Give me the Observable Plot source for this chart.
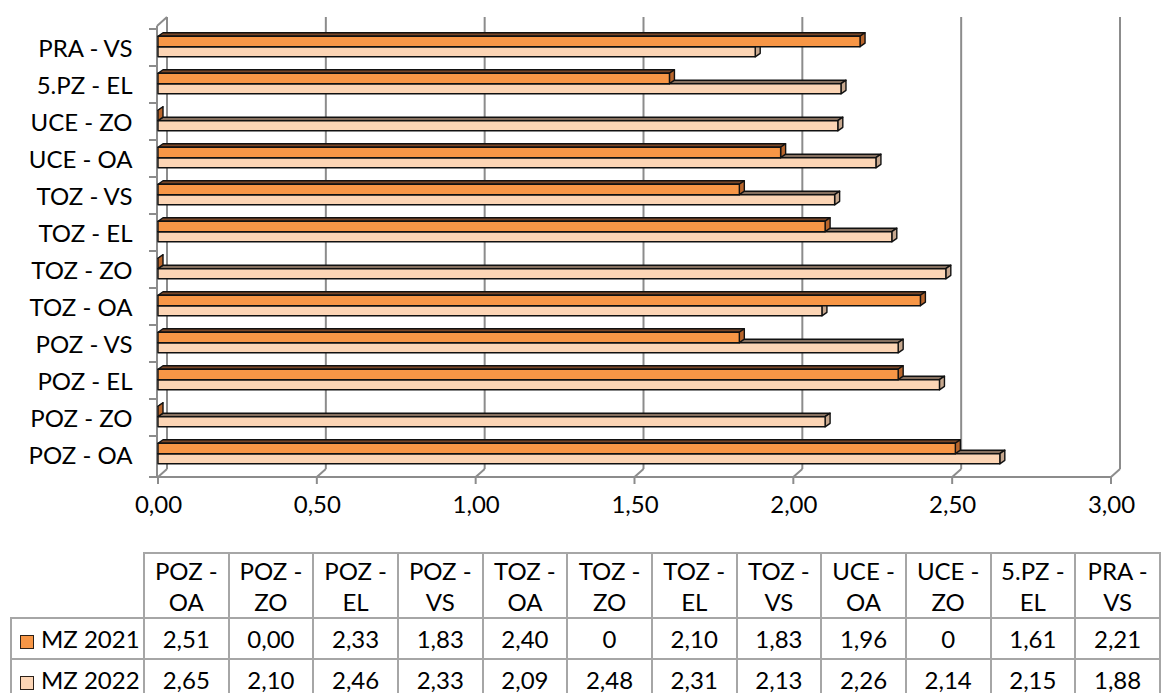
<!DOCTYPE html>
<html>
<head>
<meta charset="utf-8">
<script src="https://cdn.jsdelivr.net/npm/d3@7"></script>
<script src="https://cdn.jsdelivr.net/npm/@observablehq/plot@0.6"></script>
<style>
  html, body { margin: 0; padding: 0; background: #fff; overflow: hidden; }
  body { width: 1161px; height: 693px; position: relative; font-family: Lato, "Open Sans", sans-serif; }
  #chart { position: absolute; left: 0; top: 0; }
  #tbl { position: absolute; left: 10px; top: 552px; border-collapse: collapse; table-layout: fixed; font-family: Lato, sans-serif; font-size: 24px; color: #000; }
  #tbl td { border: 2px solid #a6a6a6; text-align: center; vertical-align: middle; padding: 0; }
  #tbl td.blank { border: none; }
  #tbl tr.head td { height: 63px; line-height: 31px; white-space: pre-line; }
  #tbl tr.row td { height: 39px; }
  #tbl td.series { text-align: left; padding-left: 8px; white-space: nowrap; }
  .key { display: inline-block; width: 12px; height: 12px; border: 1.5px solid #2b2018; margin-right: 7px; vertical-align: -1px; }
</style>
</head>
<body>
<div id="chart"></div>
<table id="tbl"></table>
<script>
// ---- data ----
const categories = ["POZ - OA","POZ - ZO","POZ - EL","POZ - VS","TOZ - OA","TOZ - ZO","TOZ - EL","TOZ - VS","UCE - OA","UCE - ZO","5.PZ - EL","PRA - VS"];
const seriesNames = ["MZ 2021", "MZ 2022"];
const mz2021 = [2.51, 0.00, 2.33, 1.83, 2.40, 0, 2.10, 1.83, 1.96, 0, 1.61, 2.21];
const mz2022 = [2.65, 2.10, 2.46, 2.33, 2.09, 2.48, 2.31, 2.13, 2.26, 2.14, 2.15, 1.88];
const labels2021 = ["2,51","0,00","2,33","1,83","2,40","0","2,10","1,83","1,96","0","1,61","2,21"];
const labels2022 = ["2,65","2,10","2,46","2,33","2,09","2,48","2,31","2,13","2,26","2,14","2,15","1,88"];
const xTicks = [0, 0.5, 1, 1.5, 2, 2.5, 3];

// ---- styles ----
const colors = {
  "MZ 2021": {front: "#F79646", top: "#7a4727", end: "#b9662c"},
  "MZ 2022": {front: "#FCD5B5", top: "#86705f", end: "#c7a88f"}
};
const grid = "#8c8c8c";
const fmt = d => d.toFixed(2).replace(".", ",");

const rows2021 = categories.map((c, i) => ({cat: c, v: mz2021[i]}));
const rows2022 = categories.map((c, i) => ({cat: c, v: mz2022[i]}));

function bar3d(col, f0, f1) {
  return (index, scales, values, dims) => {
    const n = categories.length;
    const bw = (scales.y && typeof scales.y.bandwidth === "function")
      ? scales.y.bandwidth()
      : (dims.height - dims.marginTop - dims.marginBottom) / n;
    const dx = 5, dy = -3.5;
    const g = d3.create("svg:g")
      .attr("stroke", "#111").attr("stroke-width", 1.4).attr("stroke-linejoin", "round");
    for (const i of index) {
      const xa = values.x1[i], xb = values.x2[i], t = values.y[i];
      const ya = t + f0 * bw, yb = t + f1 * bw;
      g.append("path").attr("fill", col.top)
        .attr("d", `M${xa},${ya}L${xb},${ya}L${xb+dx},${ya+dy}L${xa+dx},${ya+dy}Z`);
      g.append("path").attr("fill", col.end)
        .attr("d", `M${xb},${ya}L${xb+dx},${ya+dy}L${xb+dx},${yb+dy}L${xb},${yb}Z`);
      g.append("rect").attr("fill", col.front)
        .attr("x", xa).attr("y", ya).attr("width", Math.max(0, xb - xa)).attr("height", yb - ya);
    }
    return g.node();
  };
}

function frame3d(index, scales, values, dims) {
  const x = scales.x, y = scales.y;
  const top = dims.marginTop, bottom = dims.height - dims.marginBottom;
  const Dx = 9, Dy = -8;
  const g = d3.create("svg:g").attr("stroke", grid).attr("stroke-width", 2).attr("fill", "none");
  const line = (x1, y1, x2, y2) => g.append("line").attr("x1", x1).attr("y1", y1).attr("x2", x2).attr("y2", y2);
  for (const t of xTicks) {
    const px = x(t);
    line(px + Dx, top + Dy, px + Dx, bottom + Dy);
    line(px + Dx, bottom + Dy, px, bottom);
    line(px, bottom, px, bottom + 7);
  }
  const x0 = x(0) - 1;
  line(x0, bottom, x(3), bottom);
  line(x0, top + 1, x0, bottom);
  line(x0, top + 1, x(0) + Dx, top + Dy);
  const bounds = categories.map(c => y(c)).concat([bottom]);
  for (const b of bounds) line(x0 - 8, b, x0, b);
  return g.node();
}

const plot = Plot.plot({
  width: 1161,
  height: 545,
  marginLeft: 158,
  marginRight: 50,
  marginTop: 25,
  marginBottom: 68,
  x: {domain: [0, 3], axis: null},
  y: {domain: categories.slice().reverse(), axis: null, padding: 0},
  style: {fontFamily: "Lato, sans-serif", fontSize: "24px", color: "#000", background: "white", overflow: "visible"},
  marks: [
    frame3d,
    Plot.barX(rows2022, {x1: 0, x2: "v", y: "cat", render: bar3d(colors["MZ 2022"], 0.478, 0.752)}),
    Plot.barX(rows2021, {x1: 0, x2: "v", y: "cat", render: bar3d(colors["MZ 2021"], 0.197, 0.478)}),
    Plot.text(categories, {y: d => d, text: d => d, frameAnchor: "left", dx: -26, dy: 1, textAnchor: "end", fontSize: 24, fill: "#000"}),
    Plot.text(xTicks, {x: d => d, text: fmt, frameAnchor: "bottom", dy: 35, fontSize: 24, fill: "#000"})
  ]
});
document.getElementById("chart").appendChild(plot);

// ---- data table ----
const tbl = d3.select("#tbl");
const cg = tbl.append("colgroup");
cg.append("col").attr("style", "width:133px");
categories.forEach(() => cg.append("col").attr("style", "width:85px"));
const head = tbl.append("tr").attr("class", "head");
head.append("td").attr("class", "blank");
categories.forEach(c => head.append("td").text(c.replace(" - ", " -\n")));
[[seriesNames[0], labels2021], [seriesNames[1], labels2022]].forEach(([name, labs]) => {
  const tr = tbl.append("tr").attr("class", "row");
  const td = tr.append("td").attr("class", "series");
  td.append("span").attr("class", "key").style("background", colors[name].front);
  td.append("span").text(name);
  labs.forEach(l => tr.append("td").text(l));
});
</script>
</body>
</html>
